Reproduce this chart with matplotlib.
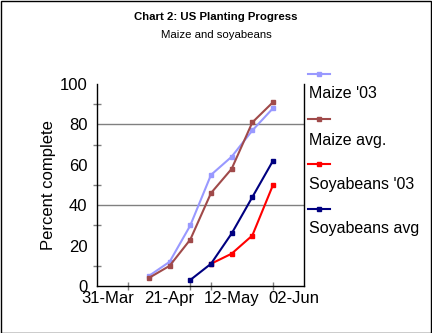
import matplotlib
matplotlib.use("Agg")
import matplotlib.pyplot as plt
import matplotlib.dates as mdates
from matplotlib.lines import Line2D
from matplotlib.patches import Rectangle
from matplotlib.ticker import FixedLocator, NullFormatter

plt.rcParams['font.family'] = ['Liberation Sans', 'DejaVu Sans']

# ---- data ----
dates = ['2003-04-14', '2003-04-21', '2003-04-28', '2003-05-05',
         '2003-05-12', '2003-05-19', '2003-05-26']
maize_03 = [5, 12, 30, 55, 64, 77, 88]
maize_avg = [4, 10, 23, 46, 58, 81, 91]
soy_03 = [None, None, None, 11, 16, 25, 50]
soy_avg = [None, None, 3, 11, 26, 44, 62]
series_names = ["Maize '03", "Maize avg.", "Soyabeans '03", "Soyabeans avg"]
series_colors = ['#9999FF', '#A04A4A', '#FF0000', '#000080']
label_dates = ['2003-03-31', '2003-04-21', '2003-05-12', '2003-06-02']
tick_dates = ['2003-04-07', '2003-04-28', '2003-05-05', '2003-05-12',
              '2003-05-26', '2003-06-02']
title = 'Chart 2: US Planting Progress'
subtitle = 'Maize and soyabeans'
ylabel = 'Percent complete'

W, H = 432, 333
fig = plt.figure(figsize=(W / 100, H / 100), dpi=100)
fig.patch.set_facecolor('white')

x0, x1, y0, y1 = 97, 304, 84, 286
ax = fig.add_axes([x0 / W, 1 - y1 / H, (x1 - x0) / W, (y1 - y0) / H])

xd = [mdates.datestr2num(d) for d in dates]
series = [maize_03, maize_avg, soy_03, soy_avg]
for vals, col in zip(series, series_colors):
    pts = [(x, v) for x, v in zip(xd, vals) if v is not None]
    ax.plot([p[0] for p in pts], [p[1] for p in pts], color=col, lw=1.5,
            marker='s', ms=2.6, mec=col, mfc=col, zorder=3)

t0 = mdates.datestr2num('2003-03-31')
ax.set_xlim(t0 - 3.6, t0 + 66.5)
ax.set_ylim(0, 100)

# y axis
ax.set_yticks([0, 20, 40, 60, 80, 100])
ax.yaxis.set_minor_locator(FixedLocator([10, 30, 50, 70, 90]))
ax.tick_params(axis='y', which='major', length=0, pad=7, labelsize=12)
ax.tick_params(axis='y', which='minor', length=6, direction='inout',
               color='#808080', width=1)
for g in [40, 80]:
    ax.axhline(g, color='#808080', lw=1, zorder=1)

# x axis
ax.xaxis.set_major_locator(FixedLocator([mdates.datestr2num(d) for d in label_dates]))
ax.xaxis.set_major_formatter(mdates.DateFormatter('%d-%b'))
ax.xaxis.set_minor_locator(FixedLocator([mdates.datestr2num(d) for d in tick_dates]))
ax.xaxis.set_minor_formatter(NullFormatter())
ax.tick_params(axis='x', which='major', length=0, pad=3.5, labelsize=12)
ax.tick_params(axis='x', which='minor', length=6, direction='inout',
               color='#808080', width=1)

for s in ['left', 'bottom', 'right']:
    ax.spines[s].set_color('black')
    ax.spines[s].set_linewidth(1)
ax.spines['top'].set_visible(False)

ax.set_ylabel(ylabel, fontsize=12, va='center')
ax.yaxis.set_label_coords(-(97 - 48) / (x1 - x0), 0.5)

# titles
fig.text(0.5, 1 - 17 / H, title, ha='center', va='center', fontsize=8.2,
         fontweight='bold')
fig.text(0.5, 1 - 35 / H, subtitle, ha='center', va='center', fontsize=8.2)

# legend (manual)
line_y = [74, 119, 164, 209]
text_y = [93, 140, 184, 229]
for name, col, ly, ty in zip(series_names, series_colors, line_y, text_y):
    fig.add_artist(Line2D([308 / W, 330 / W], [1 - ly / H, 1 - ly / H],
                          color=col, lw=1.5, transform=fig.transFigure))
    fig.add_artist(Line2D([319 / W], [1 - ly / H], color=col, marker='s',
                          ms=2.6, mfc=col, mec=col, transform=fig.transFigure))
    fig.text(309 / W, 1 - ty / H, name, ha='left', va='center', fontsize=11.5)

# border
fig.add_artist(Rectangle((0.5 / W, 0.5 / H), 1 - 1.5 / W, 1 - 1.5 / H,
                         transform=fig.transFigure, fill=False,
                         edgecolor='black', lw=1))

fig.savefig('out.png', dpi=100)
